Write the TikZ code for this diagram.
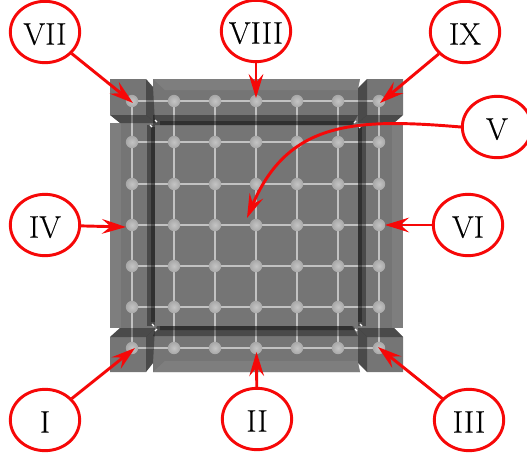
\documentclass[tikz,border=0pt]{standalone}
\usepackage{fontspec}
\setmainfont[FakeBold=0.2]{Latin Modern Roman}
\usetikzlibrary{arrows.meta,shapes.geometric}
\definecolor{facegray}{HTML}{757575}
\definecolor{edgegray}{HTML}{858585}
\definecolor{linegray}{HTML}{C2C2C2}
\definecolor{ballmid}{HTML}{C4C4C4}
\definecolor{ballhalf}{HTML}{A8A8A8}
\definecolor{ballrim}{HTML}{868686}
\definecolor{arrred}{HTML}{F60808}
\pgfdeclareradialshading{ballshade}{\pgfpointorigin}{color(0bp)=(ballmid); color(25bp)=(ballhalf); color(50bp)=(ballrim)}
\newcommand{\lbl}[1]{\makebox[0pt][c]{#1}}
\tikzset{
  x=0.75pt,y=-0.75pt,
  face/.style={fill=facegray,draw=none},
  bevel/.style={fill=edgegray,draw=none,opacity=0.6},
  shadeA/.style={fill=black,opacity=0.36,draw=none},
  shadeB/.style={fill=black,opacity=0.35,draw=none},
  gridline/.style={draw=linegray,line width=1.7pt},
  tick/.style={draw=white,line width=0.9pt},
  callout/.style={ellipse,draw=arrred,line width=2.2pt,fill=white,minimum width=52pt,minimum height=46pt,inner sep=0pt,text height=19pt,text depth=0pt,font=\fontsize{23.5}{26}\selectfont},
  pointer/.style={draw=arrred,line width=2.2pt,-{Stealth[length=18pt,width=11pt,inset=6.5pt]}},
}
\begin{document}
\begin{tikzpicture}
\useasboundingbox (0,0) rectangle (527,460);
% main faces
\fill[face] (110,123) rectangle (403,328);
% top row
\fill[face] (110,79) -- (146,79) -- (153,87) -- (153,123) -- (120,123) -- (110,115) -- cycle;
\fill[face] (153,79) -- (360,79) -- (358,88) -- (358,123) -- (153,123) -- cycle;
\fill[face] (367,79) -- (403,79) -- (403,115) -- (394,123) -- (358,123) -- (358,88) -- cycle;
% bottom row
\fill[face] (120,328) -- (153,328) -- (153,363) -- (146,372) -- (110,372) -- (110,337) -- cycle;
\fill[face] (153,328) -- (358,328) -- (358,363) -- (360,372) -- (153,372) -- cycle;
\fill[face] (358,328) -- (394,328) -- (403,337) -- (403,372) -- (367,372) -- (358,363) -- cycle;
% lighter bevels
\fill[bevel] (110,123) -- (121,123) -- (121,328) -- (110,328) -- cycle;
\fill[bevel] (392,123) -- (403,123) -- (403,328) -- (392,328) -- cycle;
\fill[bevel] (153,79) -- (360,79) -- (358,90) -- (165,90) -- cycle;
\fill[bevel] (165,361) -- (358,361) -- (360,372) -- (153,372) -- cycle;
% grid lines
\foreach \c in {132,174,215,256,297,338,379}{
  \draw[gridline] (\c,101) -- (\c,348);
}
\foreach \r in {101,142,184,225,266,307,348}{
  \draw[gridline] (132,\r) -- (379,\r);
}
% dark bands
\fill[shadeA] (146,79) -- (153,87) -- (155,123) -- (146,115) -- cycle;
\fill[shadeA] (110,115) -- (146,115) -- (155,123) -- (120,123) -- cycle;
\fill[shadeA] (153,115) -- (358,115) -- (352,125) -- (153,125) -- cycle;
\fill[shadeB] (160,121) -- (356,121) -- (353,125) -- (160,125) -- cycle;
\fill[shadeA] (367,79) -- (358,88) -- (358,123) -- (367,115) -- cycle;
\fill[shadeA] (367,115) -- (403,115) -- (394,123) -- (358,123) -- cycle;
\fill[shadeA] (147,125) rectangle (155,326);
\fill[shadeB] (151,127) rectangle (155,322);
\fill[shadeA] (358,125) rectangle (366,326);
\fill[shadeB] (358,127) rectangle (362,322);
\fill[shadeA] (120,328) -- (155,328) -- (146,337) -- (110,337) -- cycle;
\fill[shadeA] (146,337) -- (155,328) -- (153,363) -- (146,372) -- cycle;
\fill[shadeA] (157,326) -- (352,326) -- (358,336) -- (153,336) -- cycle;
\fill[shadeB] (160,326) -- (353,326) -- (356,330) -- (160,330) -- cycle;
\fill[shadeA] (358,328) -- (394,328) -- (403,337) -- (367,337) -- cycle;
\fill[shadeA] (358,328) -- (367,337) -- (367,372) -- (358,363) -- cycle;
% balls
\foreach \c in {132,174,215,256,297,338,379}{
  \foreach \r in {101,142,184,225,266,307,348}{
    \shade[shading=ballshade] (\c,\r) circle[radius=6.2];
  }
}
% white ticks at the inner corners
\draw[tick] (155,120) -- (157,122);
\draw[tick] (150,125) -- (152,127);
\draw[tick] (356,121) -- (354,123);
\draw[tick] (361,126) -- (359,128);
\draw[tick] (152,324) -- (154,326);
\draw[tick] (157,329) -- (155,331);
\draw[tick] (360,324) -- (362,326);
\draw[tick] (355,329) -- (357,331);
% targets
\coordinate (t1) at (135,348);
\coordinate (t2) at (256.5,352);
\coordinate (t3) at (378,347);
\coordinate (t4) at (126,227);
\coordinate (t5) at (247,218);
\coordinate (t6) at (385,225);
\coordinate (t7) at (133,103);
\coordinate (t8) at (256,98);
\coordinate (t9) at (380,103);
% callouts
\node[callout] (n7) at (45,32) {\lbl{VII}};
\node[callout] (n8) at (256,31) {\lbl{VIII}};
\node[callout] (n9) at (465,32) {\lbl{IX}};
\node[callout] (n5) at (497,127) {\lbl{V}};
\node[callout] (n4) at (45,225) {\lbl{IV}};
\node[callout] (n6) at (468,225) {\lbl{VI}};
\node[callout] (n1) at (45,420) {\lbl{I}};
\node[callout] (n2) at (257,419) {\lbl{II}};
\node[callout] (n3) at (469,420) {\lbl{III}};
% pointers
\draw[pointer] (n7) -- (t7);
\draw[pointer] (n8) -- (t8);
\draw[pointer] (n9) -- (t9);
\draw[pointer] (n4) -- (t4);
\draw[pointer] (n6) -- (t6);
\draw[pointer] (n1) -- (t1);
\draw[pointer] (n2) -- (t2);
\draw[pointer] (n3) -- (t3);
\draw[pointer] (n5.west) .. controls (355,118) and (288,121) .. (t5);
\end{tikzpicture}
\end{document}
